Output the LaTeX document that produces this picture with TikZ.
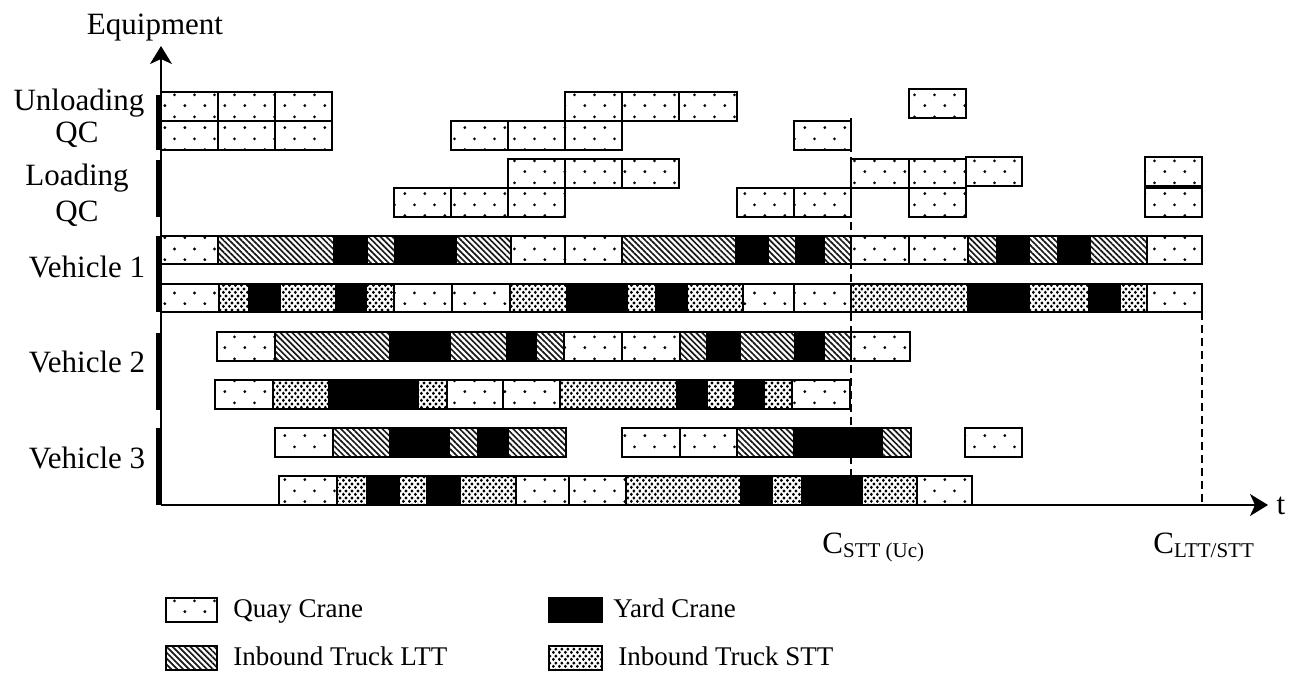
\documentclass[tikz,border=0pt]{standalone}
\usepackage{fontspec}
\setmainfont{Liberation Serif}
\usetikzlibrary{arrows.meta,patterns.meta}

% sparse dots for quay crane, dense dots for short term trucks
\tikzdeclarepattern{
  name=qcdots, type=uncolored,
  bottom left={(0pt,0pt)}, top right={(10pt,11pt)},
  tile size={(10pt,11pt)},
  code={\fill (2.5pt,2.75pt) circle (0.8pt); \fill (7.5pt,8.25pt) circle (0.8pt);}
}
\tikzdeclarepattern{
  name=sttdots, type=uncolored,
  bottom left={(0pt,0pt)}, top right={(3pt,3.6pt)},
  tile size={(3pt,3.6pt)},
  code={\fill (0.75pt,0.9pt) circle (0.9pt); \fill (2.25pt,2.7pt) circle (0.9pt);}
}

\tikzset{
  qc/.style={draw, line width=0.9pt, pattern=qcdots},
  ltt/.style={draw, line width=0.8pt, pattern={Lines[angle=-45,distance=2.1pt,line width=0.85pt]}, pattern color=black!90},
  stt/.style={draw, line width=0.8pt, pattern=sttdots, pattern color=black},
  yc/.style={draw, line width=0.8pt, fill=black},
  axisline/.style={line width=0.8pt, -{Stealth[length=9pt,width=11pt,inset=2.5pt]}},
  cutline/.style={line width=0.7pt, dash pattern=on 4pt off 2.5pt},
  rowlabel/.style={font=\fontsize{15.5}{18}\selectfont, anchor=base, inner sep=0pt},
  keylabel/.style={font=\fontsize{13.5}{16}\selectfont, anchor=base west, inner sep=0pt}
}

% one row of bars: top, height, list of style/start/end
\newcommand{\taskrow}[3]{%
  \foreach \k/\a/\b in {#3} {\draw[\k] (\a,#1) rectangle (\b,#1+#2);}}

\begin{document}
\begin{tikzpicture}[x=0.5pt, y=-0.5pt]
  \useasboundingbox (0,0) rectangle (1311,682);

  % axes
  \coordinate (origin) at (161,505);
  \coordinate (ytip) at (161,46);
  \coordinate (xtip) at (1268,505);
  \draw[axisline] (origin) -- (ytip);
  \draw[axisline] (origin) -- (xtip);
  \node[rowlabel] (equip) at (155,34) {Equipment};
  \node[rowlabel] (tlab) at (1281,514) {t};

  % group markers on the axis
  \foreach \a/\b in {95/150, 160/217, 236/312, 333/410, 428/505}
    \fill (155.5,\a) rectangle (161,\b);

  \node[rowlabel] (unl) at (79,110) {Unloading};
  \node[rowlabel] (unlqc) at (77,142) {QC};
  \node[rowlabel] (lod) at (77,185) {Loading};
  \node[rowlabel] (lodqc) at (77,221) {QC};
  \node[rowlabel] (veh1) at (87,277) {Vehicle 1};
  \node[rowlabel] (veh2) at (87,372) {Vehicle 2};
  \node[rowlabel] (veh3) at (87,468) {Vehicle 3};

  % unloading QC
  \taskrow{92}{29}{qc/161/218, qc/218/275, qc/275/332, qc/565/622, qc/622/679, qc/679/737}
  \taskrow{89}{29}{qc/909/966}
  \taskrow{121}{29}{qc/161/218, qc/218/275, qc/275/332, qc/451/508, qc/508/565, qc/565/622, qc/794/851}
  % loading QC
  \taskrow{159}{29}{qc/508/565, qc/565/622, qc/622/679, qc/851/909, qc/909/966}
  \taskrow{157}{29}{qc/966/1022, qc/1145/1202}
  \taskrow{188}{29}{qc/394/451, qc/451/508, qc/508/565, qc/737/794, qc/794/851, qc/909/966, qc/1145/1202}
  % vehicle 1
  \taskrow{236}{28}{qc/161/218, ltt/218/334, yc/334/367, ltt/367/395, yc/395/456, ltt/456/511, qc/511/565, qc/565/622, ltt/622/736, yc/736/768, ltt/768/796, yc/796/824, ltt/824/851, qc/851/909, qc/909/968, ltt/968/997, yc/997/1029, ltt/1029/1058, yc/1058/1090, ltt/1090/1147, qc/1147/1202}
  \taskrow{284}{28}{qc/161/219, stt/219/249, yc/249/280, stt/280/336, yc/336/366, stt/366/394, qc/394/452, qc/452/510, stt/510/567, yc/567/627, stt/627/656, yc/656/687, stt/687/743, qc/743/794, qc/794/851, stt/851/968, yc/968/1029, stt/1029/1089, yc/1089/1120, stt/1120/1147, qc/1147/1202}
  % vehicle 2
  \taskrow{332}{29}{qc/217/275, ltt/275/390, yc/390/450, ltt/450/507, yc/507/536, ltt/536/564, qc/564/622, qc/622/680, ltt/680/707, yc/707/740, ltt/740/795, yc/795/824, ltt/824/851, qc/851/910}
  \taskrow{380}{29}{qc/215/273, stt/273/329, yc/329/418, stt/418/447, qc/447/503, qc/503/560, stt/560/677, yc/677/707, stt/707/735, yc/735/764, stt/764/792, qc/792/850}
  % vehicle 3
  \taskrow{428}{29}{qc/275/333, ltt/333/390, yc/390/449, ltt/449/478, yc/478/508, ltt/508/566, qc/622/680, qc/680/737, ltt/737/794, yc/794/882, ltt/882/911, qc/965/1022}
  \taskrow{476}{29}{qc/279/337, stt/337/367, yc/367/399, stt/399/427, yc/427/460, stt/460/516, qc/516/569, qc/569/626, stt/626/741, yc/741/772, stt/772/802, yc/802/862, stt/862/917, qc/917/972}

  % completion times
  \coordinate (cut1top) at (851,118);
  \coordinate (cut1bot) at (851,505);
  \coordinate (cut2top) at (1202,312);
  \coordinate (cut2bot) at (1202,505);
  \draw[cutline] (cut1top) -- (cut1bot);
  \draw[cutline] (cut2top) -- (cut2bot);
  \node[rowlabel, anchor=base west] (cstt) at (822,553) {C\raisebox{-0.35ex}{\fontsize{10.5}{12}\selectfont STT (Uc)}};
  \node[rowlabel, anchor=base west] (cltt) at (1153,553) {C\raisebox{-0.35ex}{\fontsize{10.5}{12}\selectfont LTT/STT}};

  % legend
  \draw[qc] (166,598) rectangle (217,622);
  \node[keylabel] (kqc) at (233,617) {Quay Crane};
  \draw[yc] (549,598) rectangle (602,622);
  \node[keylabel] (kyc) at (613,617) {Yard Crane};
  \draw[ltt] (166,646) rectangle (217,670);
  \node[keylabel] (kltt) at (233,665) {Inbound Truck LTT};
  \draw[stt] (549,646) rectangle (602,670);
  \node[keylabel] (kstt) at (618,665) {Inbound Truck STT};
\end{tikzpicture}
\end{document}
